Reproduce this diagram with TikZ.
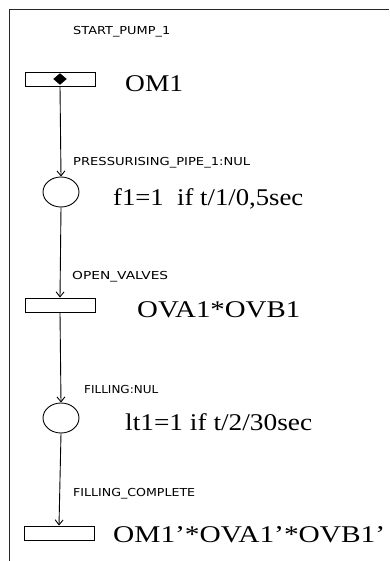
\documentclass[tikz,border=0pt]{standalone}
\usepackage{fontspec}
\setmainfont{Liberation Serif}
\newfontfamily\pixfont{DejaVu Sans}
\usetikzlibrary{arrows.meta,shapes.geometric}
\newcommand\fitw[2]{\resizebox{#1pt}{\height}{#2}}
\tikzset{
  trans/.style={draw, line width=0.9pt, minimum width=70pt, minimum height=14pt, inner sep=0pt},
  place/.style={draw, ellipse, line width=0.9pt, minimum width=36pt, minimum height=30pt, inner sep=0pt},
  lbl/.style={anchor=base west, inner sep=0pt, font=\pixfont\fontsize{11}{11}\selectfont},
  big/.style={anchor=base west, inner sep=0pt, font=\fontsize{24}{24}\selectfont},
  arc/.style={line width=0.9pt, -{Straight Barb[length=5pt,width=8pt]}},
  mark/.style={}
}
\begin{document}
\begin{tikzpicture}[x=1pt,y=-1pt]
\useasboundingbox (0,0) rectangle (389,561);
% frame
\draw[line width=1.6pt, black!85] (389,9.5) -- (9.5,9.5) -- (9.5,561);
% transitions and places
\node[trans] (t1) at (60,79) {};
\node[draw, fill=black, diamond, inner sep=0pt, minimum width=13pt, minimum height=11pt] (tok) at (60,79) {};
\node[place] (p1) at (61,192) {};
\node[trans] (t2) at (60,305) {};
\node[place] (p2) at (61,418) {};
\node[trans] (t3) at (59,533) {};
% connectors
\draw[arc] (t1.south) -- (p1.north);
\draw[arc] (p1.south) -- (t2.north);
\draw[arc] (t2.south) -- (p2.north);
\draw[arc] (p2.south) -- (t3.north);
% small labels
\node[lbl] (l1) at (73,35) {\fitw{97}{START\_PUMP\_1}};
\node[lbl] (l2) at (73,166) {\fitw{177}{PRESSURISING\_PIPE\_1:NUL}};
\node[lbl] (l3) at (72,279) {\fitw{96}{OPEN\_VALVES}};
\node[lbl] (l4) at (84,393) {\fitw{74}{FILLING:NUL}};
\node[lbl] (l5) at (73,496) {\fitw{122}{FILLING\_COMPLETE}};
% big labels
\node[big] (b1) at (125,92) {\fitw{58}{OM1}};
\node[big] (b2) at (113,205) {\fitw{190}{f1=1\ \ if t/1/0,5sec}};
\node[big] (b3) at (137,317) {\fitw{163}{OVA1*OVB1}};
\node[big] (b4) at (125,430) {\fitw{187}{lt1=1 if t/2/30sec}};
\node[big] (b5) at (113,542) {\fitw{272}{OM1’*OVA1’*OVB1’}};
\end{tikzpicture}
\end{document}
